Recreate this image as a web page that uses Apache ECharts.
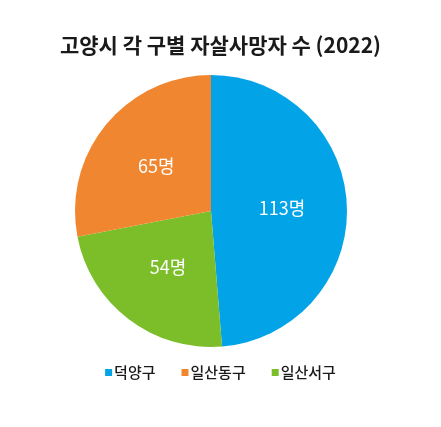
<!DOCTYPE html>
<html><head><meta charset="utf-8">
<script src="https://cdn.jsdelivr.net/npm/echarts@6/dist/echarts.min.js"></script>
<style>html,body{margin:0;padding:0;background:#fff}#c{width:441px;height:427px}</style>
</head><body><div id="c"></div>
<script>
const title = '고양시 각 구별 자살사망자 수 (2022)';
const categories = ['덕양구', '일산동구', '일산서구'];
const values = [113, 65, 54];
const colors = ['#03a3e8', '#f0862f', '#7cbe2a'];
const drawOrder = ['덕양구', '일산서구', '일산동구'];
const unit = '명';

const data = drawOrder.map(n => {
  const i = categories.indexOf(n);
  return { name: n, value: values[i], itemStyle: { color: colors[i] } };
});

const chart = echarts.init(document.getElementById('c'));
chart.setOption({
  animation: false,
  textStyle: { fontFamily: 'Noto Sans CJK KR' },
  title: {
    text: title, left: 'center', top: 30,
    textStyle: { fontSize: 21, fontWeight: 'bold', color: '#1a1a1a', fontFamily: 'Noto Sans CJK KR' }
  },
  legend: {
    data: categories, bottom: 42, left: 'center',
    icon: 'rect', itemWidth: 7, itemHeight: 7, itemGap: 26,
    textStyle: { fontSize: 15, fontWeight: 500, color: '#1a1a1a', padding: [0, 0, 0, -3] }
  },
  series: [{
    type: 'pie', center: [211, 211], radius: [0, 136],
    startAngle: 90, clockwise: true,
    data: data,
    label: {
      position: 'inside', color: '#fff', fontSize: 18,
      formatter: p => p.value + unit
    },
    labelLine: { show: false },
    itemStyle: { borderWidth: 0 },
    emphasis: { disabled: true }
  }]
});
</script></body></html>
